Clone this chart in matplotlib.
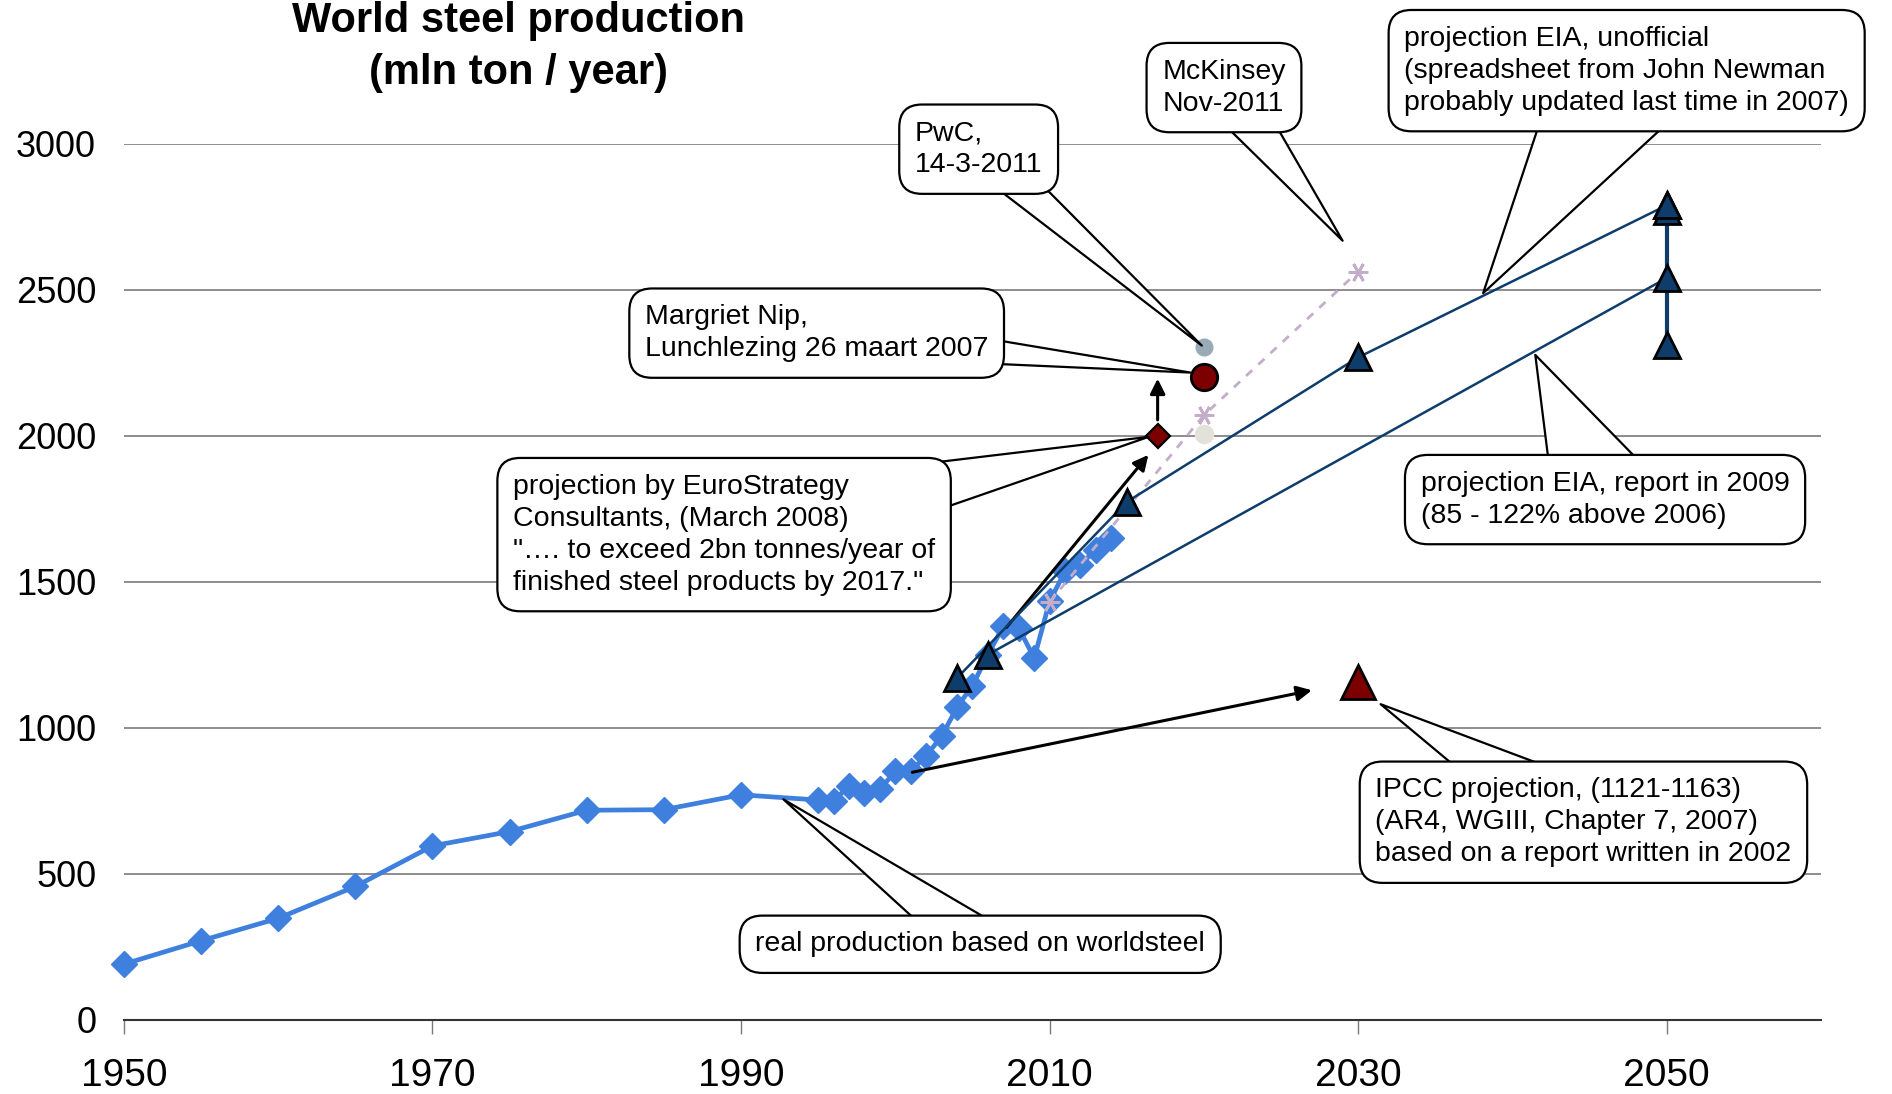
import matplotlib.pyplot as plt

plt.rcParams["font.family"] = ["Liberation Sans", "DejaVu Sans"]

# real production (worldsteel)
real_years = [1950, 1955, 1960, 1965, 1970, 1975, 1980, 1985, 1990, 1995, 1996,
              1997, 1998, 1999, 2000, 2001, 2002, 2003, 2004, 2005, 2006, 2007,
              2008, 2009, 2010, 2011, 2012, 2013, 2014]
real_values = [190, 270, 347, 456, 595, 644, 717, 719, 770, 752, 750,
               799, 777, 789, 850, 851, 904, 970, 1070, 1144, 1250, 1347,
               1341, 1238, 1433, 1535, 1558, 1610, 1648]

# EIA unofficial projection
eia_unoff_years = [2004, 2015, 2030, 2050]
eia_unoff_values = [1170, 1773, 2268, 2789]

# EIA report 2009
eia_2009_years = [2006, 2050]
eia_2009_values = [1250, 2540]

# EIA range at 2050
eia_2050_values = [2310, 2540, 2768, 2789]

# McKinsey
mck_years = [2010, 2020, 2030]
mck_values = [1430, 2070, 2562]

# single point estimates
pwc = (2020, 2302)
nip = (2020, 2202)
other_2020 = (2020, 2004)
eurostrategy = (2017, 2000)
ipcc = (2030, 1157)

navy = "#0e3d6c"
blue = "#3f80de"
darkred = "#7c0000"

fig = plt.figure(figsize=(18.92, 10.94), dpi=100)
ax = fig.add_axes([0.0655, 0.068, 0.897, 0.8007])
ax.set_xlim(1950, 2060)
ax.set_ylim(0, 3000)

for y in range(500, 3001, 500):
    ax.axhline(y, color="#7a7a7a", lw=1.2, zorder=0)

ax.plot(real_years, real_values, color=blue, lw=3.4, marker="D", ms=13,
        mec=blue, zorder=3, clip_on=False)

ax.plot(mck_years, mck_values, color="#c3adc8", lw=2, ls=(0, (3, 3)),
        marker=(6, 2, 90), ms=14, mew=2, zorder=3)

tri = dict(marker="^", ms=19, mfc=navy, mec="black", mew=2)
ax.plot(eia_unoff_years, eia_unoff_values, color=navy, lw=1.8, zorder=4, **tri)
ax.plot(eia_2009_years, eia_2009_values, color=navy, lw=1.8, zorder=4)
ax.plot([2050] * len(eia_2050_values), eia_2050_values, color=navy, lw=3,
        zorder=4, **tri)
ax.plot([2006], [1250], ls="none", zorder=4, **tri)

ax.plot(*ipcc, marker="^", ms=24, mfc=darkred, mec="black", mew=2, zorder=4)
ax.plot(*pwc, marker="o", ms=12, mfc="#9aabb8", mec="#9aabb8", zorder=4)
ax.plot(*nip, marker="o", ms=19, mfc=darkred, mec="black", mew=2, zorder=4)
ax.plot(*other_2020, marker="o", ms=13, mfc="#e2e1da", mec="#e2e1da", zorder=4)
ax.plot(*eurostrategy, marker="D", ms=12, mfc=darkred, mec="black", mew=1.6,
        zorder=4)

# plain arrows
arrow = dict(arrowstyle="-|>,head_length=0.9,head_width=0.45", color="black",
             lw=2.2, shrinkA=0, shrinkB=0)
ax.annotate("", xy=(2027.0, 1128), xytext=(2001.1, 847), arrowprops=arrow)
ax.annotate("", xy=(2016.4, 1934), xytext=(2007.2, 1343), arrowprops=arrow)
ax.annotate("", xy=(2017, 2195), xytext=(2017, 2054), arrowprops=arrow)

callouts = [
    ("PwC,\n14-3-2011", (2020, 2302), (2005.4, 2981), 1.4),
    ("McKinsey\nNov-2011", (2029.1, 2660), (2021.3, 3192), 1.85),
    ("projection EIA, unofficial\n(spreadsheet from John Newman\n"
     "probably updated last time in 2007)", (2038, 2480), (2047.4, 3250), 4.8),
    ("Margriet Nip,\nLunchlezing 26 maart 2007", (2019.3, 2215), (1994.9, 2351), 1.6),
    ("projection by EuroStrategy\nConsultants, (March 2008)\n"
     "\"…. to exceed 2bn tonnes/year of\nfinished steel products by 2017.\"",
     (2016.6, 1998), (1988.9, 1661), 3.3),
    ("projection EIA, report in 2009\n(85 - 122% above 2006)",
     (2041.4, 2285), (2046.0, 1781), 3.8),
    ("IPCC projection, (1121-1163)\n(AR4, WGIII, Chapter 7, 2007)\n"
     "based on a report written in 2002", (2031.3, 1085), (2044.6, 676), 2.8),
    ("real production based on worldsteel", (1992.6, 760), (2005.5, 258), 1.8),
]
for text, xy, xytext, tw in callouts:
    ax.annotate(text, xy=xy, xytext=xytext, textcoords="data", ha="center",
                va="center", multialignment="left", fontsize=20.5,
                linespacing=1.3, zorder=5, annotation_clip=False,
                bbox=dict(boxstyle="round,pad=0.55,rounding_size=0.8",
                          fc="white", ec="black", lw=1.6),
                arrowprops=dict(arrowstyle=f"wedge,tail_width={tw},shrink_factor=0.5",
                                fc="white", ec="black", lw=1.6, patchA=None,
                                shrinkA=0, shrinkB=2))

ax.set_yticks(range(0, 3001, 500))
ax.set_xticks(range(1950, 2051, 20))
ax.tick_params(axis="y", length=0, pad=20, labelsize=26)
ax.tick_params(axis="x", length=10, width=1, color="#7a7a7a", pad=18,
               labelsize=28)
for side in ["top", "right", "left"]:
    ax.spines[side].set_visible(False)
ax.spines["bottom"].set_color("#333333")
ax.spines["bottom"].set_linewidth(1.5)

fig.text(0.274, 0.999, "World steel production\n(mln ton / year)",
         ha="center", va="top", fontsize=30, fontweight="bold",
         linespacing=1.4)

plt.savefig("out.png", dpi=100)
